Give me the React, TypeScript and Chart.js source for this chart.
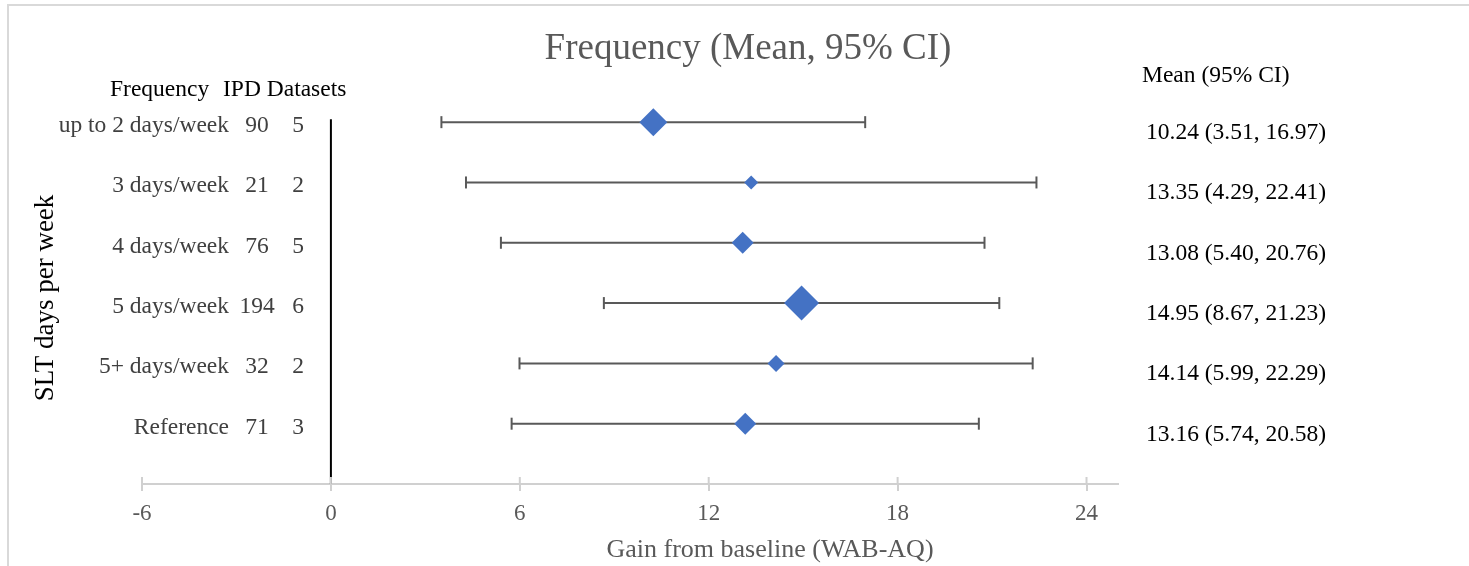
import React, { useEffect, useRef } from "react";
import { Chart, registerables } from "chart.js";

Chart.register(...registerables);

// ---- data ----
const categories = ["up to 2 days/week", "3 days/week", "4 days/week", "5 days/week", "5+ days/week", "Reference"];
const participants = [90, 21, 76, 194, 32, 71];
const ipdDatasets = [5, 2, 5, 6, 2, 3];
const means = [10.24, 13.35, 13.08, 14.95, 14.14, 13.16];
const lower = [3.51, 4.29, 5.4, 8.67, 5.99, 5.74];
const upper = [16.97, 22.41, 20.76, 21.23, 22.29, 20.58];
const markerSize = [14, 7, 11, 17.5, 8.5, 11];
const xTicks = [-6, 0, 6, 12, 18, 24];

const titleText = "Frequency (Mean, 95% CI)";
const xTitle = "Gain from baseline (WAB-AQ)";
const yTitle = "SLT days per week";
const leftHeader1 = "Frequency";
const leftHeader2 = "IPD Datasets";
const rightHeader = "Mean (95% CI)";

const SERIF = '"Liberation Serif", "Times New Roman", Times, serif';
const rowValue = (i: number) => categories.length - i;
const fmt = (v: number) => v.toFixed(2);

const annotations = {
  id: "annotations",
  beforeDraw(chart: any) {
    const ctx = chart.ctx;
    ctx.save();
    ctx.fillStyle = "#ffffff";
    ctx.fillRect(0, 0, chart.width, chart.height);
    ctx.strokeStyle = "#d9d9d9";
    ctx.lineWidth = 2;
    ctx.strokeRect(8, 5, chart.width + 40, chart.height + 40);
    ctx.restore();
  },
  afterDraw(chart: any) {
    const ctx = chart.ctx;
    const xs = chart.scales.x;
    const ys = chart.scales.y;
    const yb = chart.chartArea.bottom;
    ctx.save();
    // upper halves of the axis tick marks
    ctx.strokeStyle = "#d0d0d0";
    ctx.lineWidth = 2;
    xs.ticks.forEach((t: any) => {
      const px = xs.getPixelForValue(t.value);
      ctx.beginPath();
      ctx.moveTo(px, yb - 7);
      ctx.lineTo(px, yb);
      ctx.stroke();
    });

    // chart title
    ctx.fillStyle = "#595959";
    ctx.font = `37px ${SERIF}`;
    ctx.textAlign = "center";
    ctx.textBaseline = "alphabetic";
    ctx.fillText(titleText, 748, 59);

    // x axis title
    ctx.font = `26px ${SERIF}`;
    ctx.fillText(xTitle, 770, 557);

    // y axis title
    ctx.save();
    ctx.fillStyle = "#000000";
    ctx.font = `27px ${SERIF}`;
    ctx.translate(53, 298);
    ctx.rotate(-Math.PI / 2);
    ctx.textAlign = "center";
    ctx.fillText(yTitle, 0, 0);
    ctx.restore();

    // headers
    ctx.fillStyle = "#000000";
    ctx.font = `23.5px ${SERIF}`;
    ctx.textAlign = "left";
    ctx.fillText(leftHeader1, 110, 96);
    ctx.fillText(leftHeader2, 223, 96);
    ctx.fillText(rightHeader, 1142, 82);

    // left row labels
    categories.forEach((c, i) => {
      const py = ys.getPixelForValue(rowValue(i)) + 10;
      ctx.fillStyle = "#404040";
      ctx.textAlign = "right";
      ctx.fillText(c, 229, py);
      ctx.textAlign = "center";
      ctx.fillText(String(participants[i]), 257, py);
      ctx.fillText(String(ipdDatasets[i]), 298, py);
    });

    // right values
    ctx.fillStyle = "#000000";
    ctx.textAlign = "left";
    categories.forEach((c, i) => {
      const py = ys.getPixelForValue(rowValue(i)) + 17;
      ctx.fillText(`${fmt(means[i])} (${fmt(lower[i])}, ${fmt(upper[i])})`, 1146, py);
    });
    ctx.restore();
  },
};

export default function App() {
  const ref = useRef<HTMLCanvasElement | null>(null);

  useEffect(() => {
    if (!ref.current) return;
    const ciDatasets = categories.map((c, i) => ({
      type: "line" as const,
      label: `CI ${c}`,
      data: [
        { x: lower[i], y: rowValue(i) },
        { x: upper[i], y: rowValue(i) },
      ],
      borderColor: "#595959",
      borderWidth: 2,
      pointStyle: "line" as const,
      rotation: 90,
      pointRadius: 6,
      pointBorderColor: "#595959",
      pointBorderWidth: 2,
      showLine: true,
      fill: false,
    }));

    const chart = new Chart(ref.current, {
      type: "scatter",
      data: {
        datasets: [
          {
            type: "scatter" as const,
            label: "Mean",
            data: means.map((m, i) => ({ x: m, y: rowValue(i) })),
            pointStyle: "rectRot",
            pointRadius: markerSize,
            backgroundColor: "#4472C4",
            borderColor: "#4472C4",
            borderWidth: 0,
          },
          ...ciDatasets,
          {
            type: "line" as const,
            label: "zero",
            data: [
              { x: 0, y: 0 },
              { x: 0, y: 6.05 },
            ],
            borderColor: "#000000",
            borderWidth: 2,
            pointRadius: 0,
            showLine: true,
            fill: false,
          },
        ] as any,
      },
      options: {
        animation: false,
        responsive: true,
        maintainAspectRatio: false,
        layout: { padding: { left: 142, right: 351, top: 92, bottom: 0 } },
        plugins: {
          legend: { display: false },
          tooltip: { enabled: false },
          title: { display: false },
        },
        scales: {
          x: {
            type: "linear",
            min: -6,
            max: 25,
            afterBuildTicks: (s: any) => {
              s.ticks = xTicks.map((v) => ({ value: v }));
            },
            afterFit: (s: any) => {
              s.height = 82;
            },
            grid: {
              display: true,
              drawOnChartArea: false,
              drawTicks: true,
              tickLength: 7,
              color: "#d0d0d0",
              lineWidth: 2,
            },
            border: { display: true, color: "#d0d0d0", width: 2 },
            ticks: {
              color: "#595959",
              font: { family: SERIF, size: 23 },
              padding: 9,
              maxRotation: 0,
              autoSkip: false,
              callback: (v: any) => String(v),
            },
          },
          y: {
            type: "linear",
            display: false,
            min: 0,
            max: 6.5,
          },
        },
      } as any,
      plugins: [annotations],
    });
    return () => chart.destroy();
  }, []);

  return (
    <div style={{ position: "fixed", left: 0, top: 0, width: "1469px", height: "566px", background: "#fff" }}>
      <canvas ref={ref} />
    </div>
  );
}
